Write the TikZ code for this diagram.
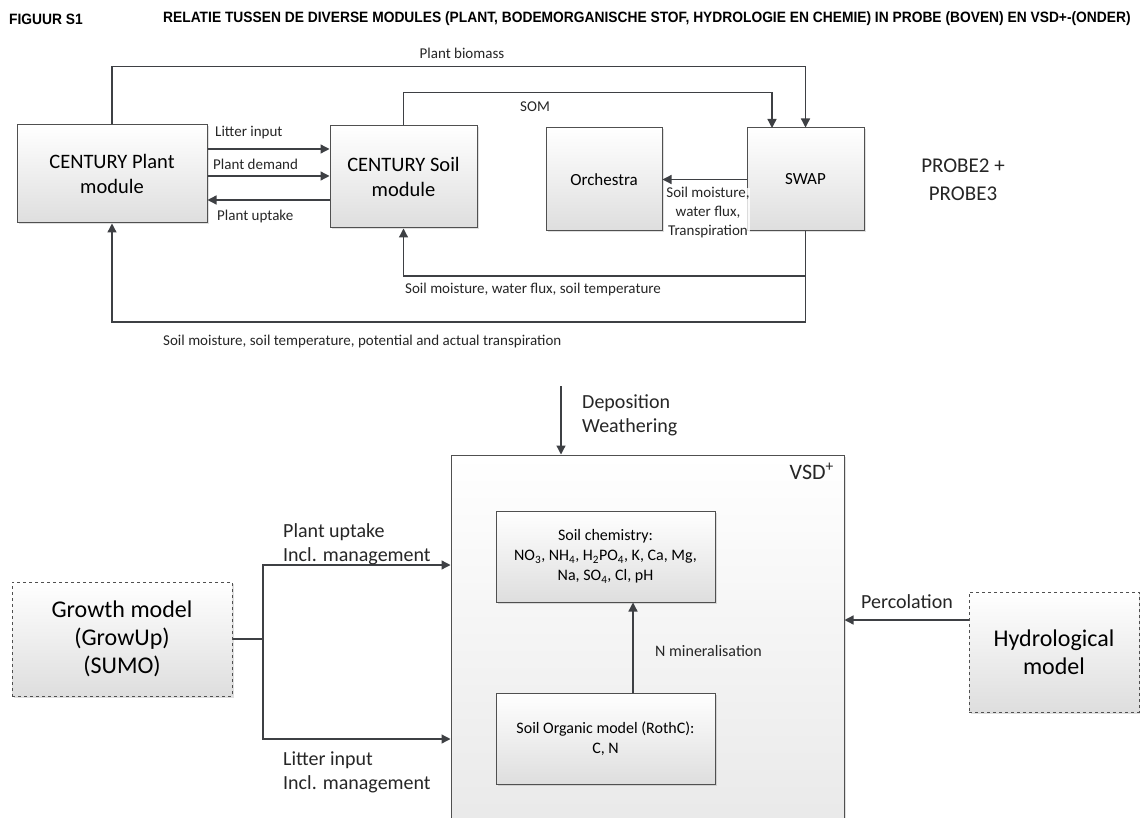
\documentclass[tikz,border=0pt]{standalone}
\usepackage{fontspec}
\setmainfont{Carlito}
\newfontfamily\titlefont[FakeStretch=0.92]{Liberation Sans}
\usepackage{tikz}
\usetikzlibrary{arrows.meta,shadows}

\definecolor{linegray}{RGB}{62,64,68}
\definecolor{boxgray}{RGB}{80,80,80}

\tikzset{
  modbox/.style={draw=boxgray, line width=1pt, top color=white, bottom color=black!13,
    drop shadow={opacity=0.25, shadow xshift=1.5pt, shadow yshift=-1.5pt},
    align=center, inner sep=0pt},
  extbox/.style={modbox, dashed},
  flow/.style={draw=linegray, line width=1.3pt, -{Triangle[width=9pt,length=9pt]}},
  link/.style={draw=linegray, line width=1.3pt},
  lbl/.style={font=\fontsize{15}{19}\selectfont, text=black!85, inner sep=0pt},
  biglbl/.style={font=\fontsize{20}{24}\selectfont, text=black!85, inner sep=0pt}
}

\begin{document}
\begin{tikzpicture}[x=1pt,y=-1pt]
                \clip (0,0) rectangle (1140,818);
                \fill[white] (0,0) rectangle (1140,818);

                % title line
                \node[anchor=west, inner sep=0pt] (fig) at (9,19) {\titlefont\bfseries\fontsize{15}{15}\selectfont FIGUUR S1};
                \node[anchor=west, inner sep=0pt] (title) at (163,19) {\titlefont\bfseries\fontsize{15}{15}\selectfont RELATIE TUSSEN DE DIVERSE MODULES (PLANT, BODEMORGANISCHE STOF, HYDROLOGIE EN CHEMIE) IN PROBE (BOVEN) EN VSD+-(ONDER)};

                % PROBE (top half)
                \node[modbox, minimum width=190, minimum height=98, font=\fontsize{20.5}{25}\selectfont] (plant) at (112,174) {CENTURY Plant\\module};
                \node[modbox, minimum width=147, minimum height=102, font=\fontsize{20.5}{25}\selectfont] (soil) at (403.5,177) {CENTURY Soil\\module};
                \node[modbox, minimum width=116, minimum height=103, font=\fontsize{17}{20}\selectfont] (orch) at (604,179.5) {Orchestra};
                \node[modbox, minimum width=117, minimum height=103, font=\fontsize{17}{20}\selectfont] (swap) at (805.5,179.5) {SWAP};
                \coordinate (somin) at (772,128);

                \draw[flow] (plant.north) -- ++(0,-58) -| (swap.north);
                \draw[flow] (soil.north) -- ++(0,-33) -| (somin);
                \draw[flow] (plant.east |- 0,149) -- (soil.west |- 0,149);
                \draw[flow] (plant.east |- 0,176) -- (soil.west |- 0,176);
                \draw[flow] (soil.west |- 0,200) -- (plant.east |- 0,200);
                \draw[flow] (swap.west) -- (orch.east);
                \draw[flow] (swap.south) -- (swap.south |- 0,322) -| (plant.south);
                \draw[flow] (swap.south |- 0,276) -| (soil.south);

                \node[lbl] (biomasslbl) at (462,53) {Plant biomass};
                \node[lbl, anchor=west] (somlbl) at (520,107) {SOM};
                \node[lbl, anchor=west] (litterlbl) at (215,133) {Litter input};
                \node[lbl, anchor=west] (demandlbl) at (213,164) {Plant demand};
                \node[lbl, anchor=west] (uptakelbl) at (217,217) {Plant uptake};
                \node[lbl, align=center, fill=white, fill opacity=0.8, text opacity=1] (orchlbl) at (708,213) {Soil moisture,\\water flux,\\Transpiration};
                \node[lbl, anchor=west] (soillbl) at (405,290) {Soil moisture, water flux, soil temperature};
                \node[lbl, anchor=west] (plantlbl) at (163,341) {Soil moisture, soil temperature, potential and actual transpiration};
                \node[align=center, font=\fontsize{21}{28}\selectfont, text=black!85] (probe) at (963,180) {PROBE2 +\\PROBE3};

                % VSD+ (bottom half)
                \node[modbox, minimum width=393, minimum height=390, top color=white, bottom color=black!9] (vsd) at (647.5,650) {};
                \node[anchor=north east, inner sep=0pt, font=\fontsize{22}{26}\selectfont, text=black!85] (vsdlbl) at (834,463) {VSD\textsuperscript{+}};
                \node[modbox, minimum width=219, minimum height=91, font=\fontsize{16}{20}\selectfont] (chem) at (605.5,556.5) {Soil chemistry:\\NO\textsubscript{3}, NH\textsubscript{4}, H\textsubscript{2}PO\textsubscript{4}, K, Ca, Mg,\\Na, SO\textsubscript{4}, Cl, pH};
                \node[modbox, minimum width=219, minimum height=91, font=\fontsize{16}{20}\selectfont] (org) at (605.5,738.5) {Soil Organic model (RothC):\\C, N};
                \node[extbox, minimum width=220, minimum height=114, font=\fontsize{24}{28}\selectfont] (growth) at (122,639) {Growth model\\(GrowUp)\\(SUMO)};
                \node[extbox, minimum width=170, minimum height=120, font=\fontsize{24}{28}\selectfont] (hydro) at (1054,652) {Hydrological\\model};
                \coordinate (dep) at (561,386);
                \coordinate (split) at (263,639);

                \draw[flow] (dep) -- (dep |- vsd.north);
                \draw[link] (growth.east) -- (split);
                \draw[flow] (split) |- (vsd.west |- 0,565);
                \draw[flow] (split) |- (vsd.west |- 0,739);
                \draw[flow] (hydro.west |- 0,620) -- (vsd.east |- 0,620);
                \draw[flow] ([xshift=27.5pt]org.north) -- ([xshift=27.5pt]chem.south);

                \node[biglbl, anchor=west, align=left] (deplbl) at (582,415) {Deposition\\Weathering};
                \node[biglbl, anchor=west, align=left] (uptakevsd) at (283,544) {Plant uptake\\Incl. management};
                \node[biglbl, anchor=west, align=left] (littervsd) at (283,772) {Litter input\\Incl. management};
                \node[biglbl] (perclbl) at (907,602) {Percolation};
                \node[lbl, font=\fontsize{16}{20}\selectfont, anchor=west] (minlbl) at (655,651) {N mineralisation};
\end{tikzpicture}
\end{document}
